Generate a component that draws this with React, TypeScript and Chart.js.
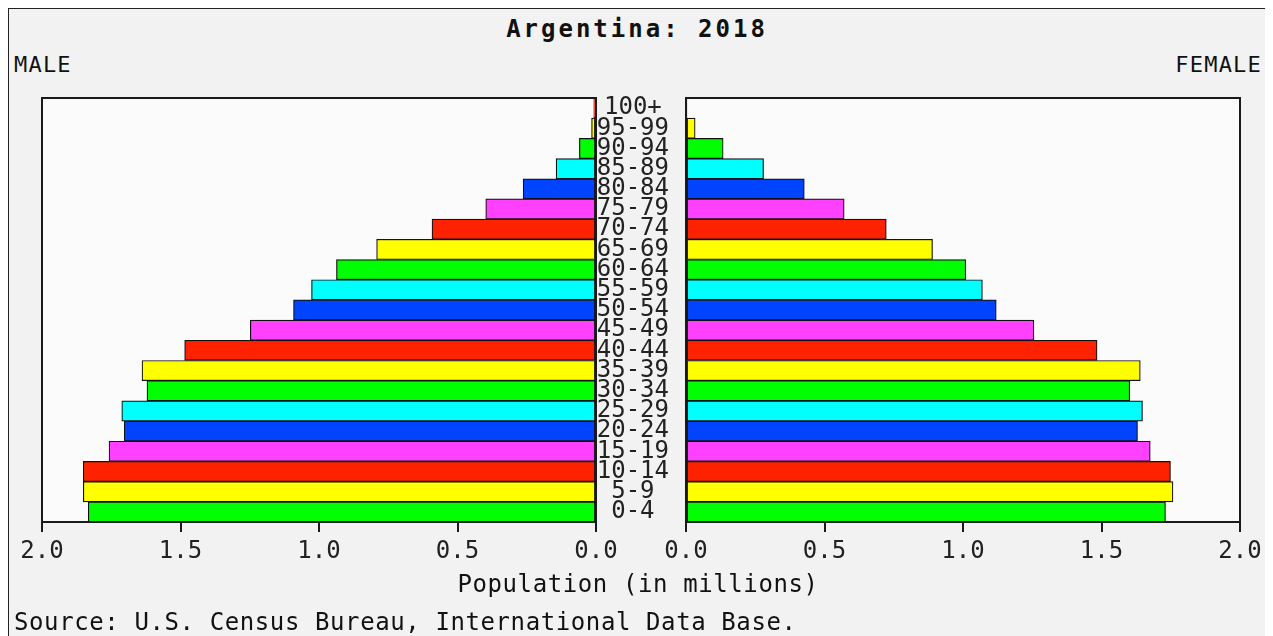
import React, { useEffect, useRef } from "react";
import { Chart, registerables } from "chart.js";

Chart.register(...registerables);

// ---- data ----
const ageGroups = [
  "0-4", "5-9", "10-14", "15-19", "20-24", "25-29", "30-34", "35-39", "40-44", "45-49",
  "50-54", "55-59", "60-64", "65-69", "70-74", "75-79", "80-84", "85-89", "90-94", "95-99", "100+",
];
const maleValues = [
  1.833, 1.851, 1.851, 1.758, 1.703, 1.712, 1.621, 1.639, 1.485, 1.248,
  1.092, 1.027, 0.937, 0.792, 0.592, 0.398, 0.263, 0.144, 0.06, 0.016, 0.008,
];
const femaleValues = [
  1.731, 1.758, 1.749, 1.676, 1.63, 1.648, 1.602, 1.64, 1.484, 1.256,
  1.12, 1.07, 1.01, 0.89, 0.723, 0.571, 0.427, 0.28, 0.134, 0.033, 0.003,
];
const xTickValues = [0, 0.5, 1.0, 1.5, 2.0];
const barColors = ["#00ff00", "#ffff00", "#ff2200", "#ff40ff", "#0044ff", "#00ffff"];

// ---- layout ----
const W = 1263;
const H = 627;
const AREA_TOP = 89;
const AREA_BOTTOM = 513;
const XAXIS_H = 40;
const MONO = '"DejaVu Sans Mono", "Liberation Mono", monospace';

const panelPlugin = {
  id: "panelBox",
  beforeDraw(chart: any) {
    const { ctx, chartArea: a } = chart;
    ctx.save();
    ctx.fillStyle = "#fbfbfb";
    ctx.fillRect(a.left, a.top, a.right - a.left, a.bottom - a.top);
    ctx.restore();
  },
  afterDatasetsDraw(chart: any) {
    const { ctx, chartArea: a } = chart;
    ctx.save();
    ctx.strokeStyle = "#1a1a1a";
    ctx.lineWidth = 2;
    ctx.strokeRect(a.left, a.top, a.right - a.left, a.bottom - a.top);
    ctx.restore();
  },
};

function makeConfig(side: "male" | "female"): any {
  const isMale = side === "male";
  const values = isMale ? maleValues : femaleValues;
  const padLeft = isMale ? 33 : 587;
  const padRight = isMale ? W - 587 : W - 1231;
  return {
    type: "bar",
    data: {
      labels: ageGroups,
      datasets: [
        {
          data: values,
          backgroundColor: ageGroups.map((_, i) => barColors[i % barColors.length]),
          borderColor: "#111",
          borderWidth: 1.2,
          borderSkipped: false,
          barPercentage: 1,
          categoryPercentage: 1,
        },
      ],
    },
    options: {
      responsive: false,
      animation: false,
      indexAxis: "y",
      layout: {
        padding: { left: padLeft, right: padRight, top: AREA_TOP, bottom: H - AREA_BOTTOM - XAXIS_H },
      },
      plugins: { legend: { display: false }, tooltip: { enabled: false }, title: { display: false } },
      scales: {
        x: {
          type: "linear",
          min: 0,
          max: 2,
          reverse: isMale,
          afterBuildTicks: (s: any) => {
            s.ticks = xTickValues.map((v) => ({ value: v }));
          },
          afterFit: (s: any) => {
            s.height = XAXIS_H;
          },
          grid: {
            display: true,
            drawOnChartArea: false,
            drawTicks: true,
            tickLength: 10,
            color: "#1a1a1a",
            lineWidth: 2,
          },
          border: { display: false },
          ticks: {
            font: { family: MONO, size: 24 },
            color: "#222",
            padding: 5,
            maxRotation: 0,
            autoSkip: false,
            callback: (v: any) => Number(v).toFixed(1),
          },
        },
        y: {
          type: "category",
          reverse: true,
          display: !isMale,
          afterFit: (s: any) => {
            s.width = isMale ? 0 : 90;
          },
          grid: { display: false },
          border: { display: false },
          ticks: {
            crossAlign: "center",
            padding: 9,
            font: { family: MONO, size: 24 },
            color: "#222",
            autoSkip: false,
          },
        },
      },
    },
    plugins: [panelPlugin],
  };
}

export default function App() {
  const maleRef = useRef<HTMLCanvasElement>(null);
  const femaleRef = useRef<HTMLCanvasElement>(null);

  useEffect(() => {
    const c1 = new Chart(maleRef.current as HTMLCanvasElement, makeConfig("male"));
    const c2 = new Chart(femaleRef.current as HTMLCanvasElement, makeConfig("female"));
    return () => {
      c1.destroy();
      c2.destroy();
    };
  }, []);

  const textBase: React.CSSProperties = {
    position: "absolute",
    fontFamily: MONO,
    color: "#111",
    whiteSpace: "nowrap",
    lineHeight: "24px",
  };

  return (
    <div
      style={{
        position: "relative",
        width: 1265,
        height: 640,
        boxSizing: "border-box",
        border: "1px solid #222",
        background: "#f2f2f2",
        overflow: "hidden",
      }}
    >
      <div
        style={{
          ...textBase,
          left: 0,
          width: 1256,
          top: 8,
          textAlign: "center",
          fontWeight: "bold",
          fontSize: 24,
          letterSpacing: 3,
        }}
      >
        Argentina: 2018
      </div>
      <div style={{ ...textBase, left: 5, top: 44, fontSize: 22, letterSpacing: 1.2 }}>MALE</div>
      <div style={{ ...textBase, right: 10, top: 44, fontSize: 22, letterSpacing: 1.2 }}>FEMALE</div>
      <canvas
        ref={maleRef}
        width={W}
        height={H}
        style={{ position: "absolute", left: 0, top: 0, width: W, height: H }}
      />
      <canvas
        ref={femaleRef}
        width={W}
        height={H}
        style={{ position: "absolute", left: 0, top: 0, width: W, height: H }}
      />
      <div
        style={{
          ...textBase,
          left: 0,
          width: 1258,
          top: 563,
          textAlign: "center",
          fontSize: 24,
          letterSpacing: 0.6,
        }}
      >
        Population (in millions)
      </div>
      <div style={{ ...textBase, left: 5, top: 601, fontSize: 24, letterSpacing: 0.6 }}>
        Source: U.S. Census Bureau, International Data Base.
      </div>
    </div>
  );
}
